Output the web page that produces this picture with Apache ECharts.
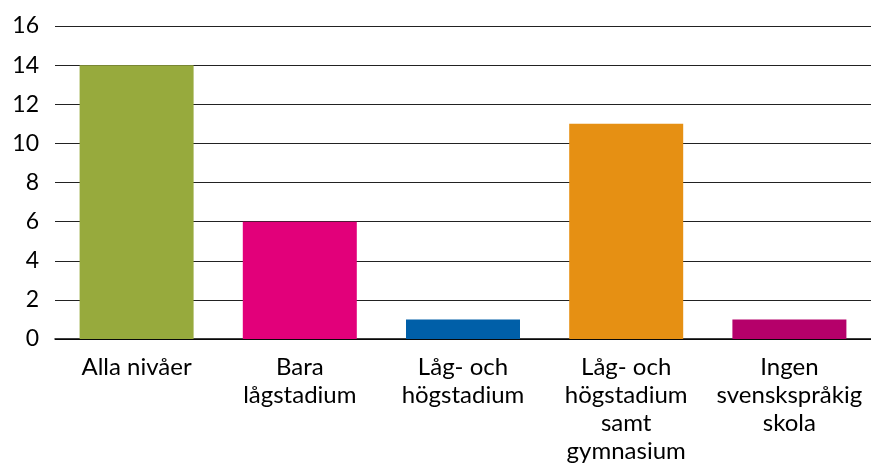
<!DOCTYPE html>
<html>
<head>
<meta charset="utf-8">
<script src="https://cdn.jsdelivr.net/npm/echarts@6/dist/echarts.min.js"></script>
<style>
  html, body { margin: 0; padding: 0; background: #fff; }
  #chart { width: 871px; height: 468px; }
</style>
</head>
<body>
<div id="chart"></div>
<script>
// kategorier och värden
const categories = ['Alla nivåer', 'Bara\nlågstadium', 'Låg- och\nhögstadium', 'Låg- och\nhögstadium\nsamt\ngymnasium', 'Ingen\nsvenskspråkig\nskola'];
const values = [14, 6, 1, 11, 1];
const barColors = ['#97aa3d', '#e2007a', '#005fa8', '#e69013', '#b5006a'];

const chart = echarts.init(document.getElementById('chart'));

const option = {
  backgroundColor: '#fff',
  animation: false,
  textStyle: { fontFamily: 'Lato, sans-serif' },
  grid: { left: 55, right: 0, top: 26, bottom: 129, containLabel: false },
  xAxis: {
    type: 'category',
    data: categories,
    axisLine: { show: true, lineStyle: { color: '#000', width: 1.5 } },
    axisTick: { show: false },
    axisLabel: {
      interval: 0,
      color: '#000',
      fontSize: 24,
      lineHeight: 28,
      margin: 14
    }
  },
  yAxis: {
    type: 'value',
    min: 0,
    max: 16,
    interval: 2,
    axisLine: { show: false },
    axisTick: { show: false },
    splitLine: { show: true, lineStyle: { color: '#222', width: 1 } },
    axisLabel: { color: '#000', fontSize: 23, margin: 16 }
  },
  series: [{
    type: 'bar',
    barWidth: 114,
    data: values.map((v, i) => ({ value: v, itemStyle: { color: barColors[i] } }))
  }]
};

chart.setOption(option);
</script>
</body>
</html>
